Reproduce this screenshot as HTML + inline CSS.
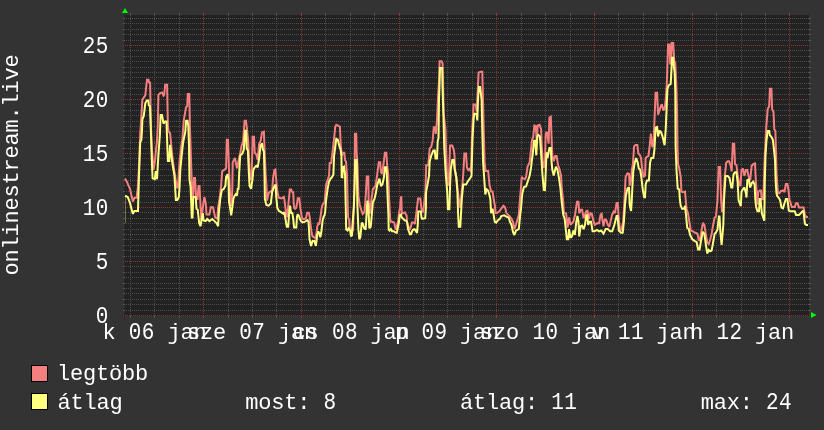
<!DOCTYPE html>
<html><head><meta charset="utf-8"><title>onlinestream.live</title>
<style>
html,body{margin:0;padding:0;background:#333333;width:824px;height:430px;overflow:hidden}
svg{display:block;will-change:transform}
text{font-family:"Liberation Mono", monospace;font-size:22px;fill:#ffffff;text-anchor:middle}
text.d{font-size:21px}
text.t{letter-spacing:-0.202px}
</style></head>
<body><svg width="824" height="430" viewBox="0 0 824 430">
<rect width="824" height="430" fill="#333333"/>
<rect x="125" y="15" width="684" height="301" fill="#222222"/>
<path d="M124.5 9V320M121 315.5H124" stroke="#282828" stroke-width="1" fill="none" shape-rendering="crispEdges"/>
<path d="M126 310.5H809 M126 304.5H809 M126 299.5H809 M126 293.5H809 M126 288.5H809 M126 283.5H809 M126 277.5H809 M126 272.5H809 M126 266.5H809 M126 256.5H809 M126 250.5H809 M126 245.5H809 M126 239.5H809 M126 234.5H809 M126 229.5H809 M126 223.5H809 M126 218.5H809 M126 212.5H809 M126 202.5H809 M126 196.5H809 M126 191.5H809 M126 185.5H809 M126 180.5H809 M126 175.5H809 M126 169.5H809 M126 164.5H809 M126 158.5H809 M126 148.5H809 M126 142.5H809 M126 137.5H809 M126 131.5H809 M126 126.5H809 M126 121.5H809 M126 115.5H809 M126 110.5H809 M126 104.5H809 M126 94.5H809 M126 88.5H809 M126 83.5H809 M126 77.5H809 M126 72.5H809 M126 67.5H809 M126 61.5H809 M126 56.5H809 M126 50.5H809 M126 40.5H809 M126 34.5H809 M126 29.5H809 M126 23.5H809 M126 18.5H809 M130.5 15V316 M154.5 15V316 M179.5 15V316 M228.5 15V316 M252.5 15V316 M276.5 15V316 M325.5 15V316 M350.5 15V316 M374.5 15V316 M423.5 15V316 M447.5 15V316 M472.5 15V316 M521.5 15V316 M545.5 15V316 M570.5 15V316 M618.5 15V316 M643.5 15V316 M667.5 15V316 M716.5 15V316 M741.5 15V316 M765.5 15V316" stroke="#4e4e4e" stroke-width="1" stroke-dasharray="1 1" fill="none" shape-rendering="crispEdges"/>
<path d="M123 310.5H125M809 310.5H811 M123 304.5H125M809 304.5H811 M123 299.5H125M809 299.5H811 M123 293.5H125M809 293.5H811 M123 288.5H125M809 288.5H811 M123 283.5H125M809 283.5H811 M123 277.5H125M809 277.5H811 M123 272.5H125M809 272.5H811 M123 266.5H125M809 266.5H811 M123 256.5H125M809 256.5H811 M123 250.5H125M809 250.5H811 M123 245.5H125M809 245.5H811 M123 239.5H125M809 239.5H811 M123 234.5H125M809 234.5H811 M123 229.5H125M809 229.5H811 M123 223.5H125M809 223.5H811 M123 218.5H125M809 218.5H811 M123 212.5H125M809 212.5H811 M123 202.5H125M809 202.5H811 M123 196.5H125M809 196.5H811 M123 191.5H125M809 191.5H811 M123 185.5H125M809 185.5H811 M123 180.5H125M809 180.5H811 M123 175.5H125M809 175.5H811 M123 169.5H125M809 169.5H811 M123 164.5H125M809 164.5H811 M123 158.5H125M809 158.5H811 M123 148.5H125M809 148.5H811 M123 142.5H125M809 142.5H811 M123 137.5H125M809 137.5H811 M123 131.5H125M809 131.5H811 M123 126.5H125M809 126.5H811 M123 121.5H125M809 121.5H811 M123 115.5H125M809 115.5H811 M123 110.5H125M809 110.5H811 M123 104.5H125M809 104.5H811 M123 94.5H125M809 94.5H811 M123 88.5H125M809 88.5H811 M123 83.5H125M809 83.5H811 M123 77.5H125M809 77.5H811 M123 72.5H125M809 72.5H811 M123 67.5H125M809 67.5H811 M123 61.5H125M809 61.5H811 M123 56.5H125M809 56.5H811 M123 50.5H125M809 50.5H811 M123 40.5H125M809 40.5H811 M123 34.5H125M809 34.5H811 M123 29.5H125M809 29.5H811 M123 23.5H125M809 23.5H811 M123 18.5H125M809 18.5H811 M130.5 13V15M130.5 316V318 M154.5 13V15M154.5 316V318 M179.5 13V15M179.5 316V318 M228.5 13V15M228.5 316V318 M252.5 13V15M252.5 316V318 M276.5 13V15M276.5 316V318 M325.5 13V15M325.5 316V318 M350.5 13V15M350.5 316V318 M374.5 13V15M374.5 316V318 M423.5 13V15M423.5 316V318 M447.5 13V15M447.5 316V318 M472.5 13V15M472.5 316V318 M521.5 13V15M521.5 316V318 M545.5 13V15M545.5 316V318 M570.5 13V15M570.5 316V318 M618.5 13V15M618.5 316V318 M643.5 13V15M643.5 316V318 M667.5 13V15M667.5 316V318 M716.5 13V15M716.5 316V318 M741.5 13V15M741.5 316V318 M765.5 13V15M765.5 316V318" stroke="#555555" stroke-width="1" fill="none" shape-rendering="crispEdges"/>
<path d="M123 45.5H810 M123 99.5H810 M123 153.5H810 M123 207.5H810 M123 261.5H810 M203.5 15V316 M301.5 15V316 M399.5 15V316 M496.5 15V316 M594.5 15V316 M692.5 15V316 M789.5 15V316" stroke="#883737" stroke-width="1" stroke-dasharray="1 1" fill="none" shape-rendering="crispEdges"/>
<path d="M123 315.5H810" stroke="#7a3636" stroke-width="1" stroke-dasharray="1 1" fill="none" shape-rendering="crispEdges"/>
<path d="M203.5 13V15M203.5 316V318 M301.5 13V15M301.5 316V318 M399.5 13V15M399.5 316V318 M496.5 13V15M496.5 316V318 M594.5 13V15M594.5 316V318 M692.5 13V15M692.5 316V318 M789.5 13V15M789.5 316V318" stroke="#963c3c" stroke-width="1" fill="none" shape-rendering="crispEdges"/>
<polygon points="122,13 128,13 125,8" fill="#00ff00"/>
<polygon points="811,312 811,318 816.5,315" fill="#00ff00"/>
<polyline points="125.0,178.4 127.1,182.1 130.0,189.0 131.5,195.6 132.9,201.5 134.4,197.8 136.6,197.8 138.0,186.0 139.2,162.4 140.2,133.3 141.0,122.0 142.4,99.7 145.3,95.3 147.0,79.7 148.5,79.7 149.0,82.2 150.1,82.6 150.9,126.0 152.0,150.0 153.5,169.7 154.8,162.4 157.0,140.6 157.8,126.0 158.4,94.9 160.2,93.1 162.0,92.4 163.5,95.7 164.2,94.9 165.2,84.8 167.1,84.8 167.9,126.0 168.6,131.8 170.1,133.3 171.2,144.9 172.2,155.1 173.7,166.8 175.9,181.3 177.3,188.4 178.1,186.0 179.5,162.4 181.0,147.8 182.4,139.1 183.3,126.0 183.9,119.3 186.1,107.0 187.2,106.2 187.8,93.9 189.3,93.9 189.9,126.0 190.5,143.5 191.2,166.8 192.2,195.0 193.2,196.0 194.0,178.0 195.0,178.0 196.0,196.0 197.5,200.0 198.5,186.0 199.5,186.0 200.5,205.0 201.4,220.4 202.5,210.0 204.3,197.1 205.7,202.9 206.5,214.6 209.4,214.6 210.8,207.3 213.0,207.3 215.2,217.5 217.4,219.0 218.1,207.3 219.6,198.6 221.0,186.9 222.2,171.1 224.7,169.7 226.1,168.2 226.8,139.8 228.0,139.8 229.0,169.7 229.8,188.0 230.5,205.0 231.5,205.0 232.3,190.0 232.7,162.4 234.9,158.0 237.0,168.2 238.5,161.0 240.7,150.8 241.4,146.4 243.1,141.1 244.6,120.7 246.0,120.7 247.0,129.5 248.2,141.1 249.6,172.0 250.8,180.2 251.8,172.0 252.6,136.8 254.0,136.8 254.7,152.8 256.2,154.2 257.7,160.1 259.1,144.0 260.6,141.1 262.0,132.4 263.9,131.7 264.5,148.4 265.7,175.0 266.4,184.6 267.1,200.6 268.6,193.3 270.0,191.8 272.2,190.4 273.0,178.7 274.4,170.0 275.4,169.5 276.6,184.6 277.3,191.8 278.8,197.7 281.7,198.4 283.9,196.9 284.4,199.6 285.4,207.9 286.3,215.2 287.1,217.1 288.5,203.0 289.3,195.0 289.8,189.4 291.2,189.4 292.0,191.8 293.2,192.3 293.7,203.0 294.1,207.9 295.1,208.9 296.1,207.9 297.1,203.0 297.8,198.2 299.3,198.2 299.8,203.0 300.5,208.9 301.5,215.2 302.2,218.6 303.4,219.1 305.9,218.6 307.1,212.8 308.8,212.8 309.8,217.6 310.5,224.0 311.5,232.3 312.5,236.3 313.9,237.2 315.4,238.2 316.4,234.3 317.3,226.5 318.3,223.6 319.3,224.5 320.8,214.8 321.7,207.9 322.5,205.0 324.6,202.0 326.1,184.6 327.6,180.2 329.0,175.8 329.7,163.0 331.2,163.0 333.8,141.1 335.3,126.6 336.3,124.8 338.5,125.8 339.9,126.6 340.7,144.0 341.7,155.7 342.8,152.8 344.3,152.8 345.0,160.1 346.0,161.5 346.9,174.0 347.2,184.6 348.1,217.7 349.1,219.6 349.6,226.5 350.5,228.4 352.0,230.0 353.0,231.0 354.5,184.6 354.9,133.8 356.2,133.8 356.7,152.8 357.6,167.3 358.4,196.2 359.8,205.0 361.3,210.0 362.7,214.0 364.5,212.0 365.8,195.0 366.8,176.6 368.3,176.6 368.6,199.1 370.0,213.7 371.5,199.1 372.9,188.9 374.4,187.5 375.8,184.6 377.3,174.0 378.8,162.2 380.2,162.2 381.0,172.0 382.0,174.0 383.1,167.3 384.9,152.8 386.3,152.8 387.2,165.9 388.2,174.0 389.0,196.2 390.2,218.9 390.9,221.8 392.7,221.8 394.2,222.6 395.3,227.7 396.0,229.8 398.2,220.4 399.3,210.9 400.0,208.0 400.6,200.0 401.3,196.2 401.8,213.8 403.3,213.1 404.8,212.4 405.5,213.8 406.6,215.3 407.2,223.9 409.1,227.7 409.9,229.8 410.6,227.7 412.0,222.6 413.5,222.6 415.0,224.0 416.6,210.8 418.1,198.4 420.3,198.4 421.7,210.8 423.2,212.2 425.4,191.8 426.1,170.0 426.1,165.2 428.3,165.2 429.7,148.4 431.2,147.0 432.6,141.1 433.8,127.3 435.3,127.3 435.8,133.8 437.0,120.0 437.9,100.0 439.0,81.1 439.6,61.3 441.5,61.3 442.6,63.5 443.7,114.0 445.5,129.5 446.0,148.4 447.0,175.0 448.0,186.0 449.0,176.0 450.1,145.5 452.3,145.5 453.8,149.9 454.5,155.7 455.2,174.0 456.5,177.0 457.4,187.5 458.8,199.1 460.3,207.9 461.0,199.0 462.5,184.0 463.5,170.0 464.4,153.5 466.1,153.5 466.9,167.3 468.3,170.2 469.8,168.8 471.0,172.0 472.2,130.6 473.6,104.4 475.8,104.4 476.6,111.7 477.3,100.0 478.6,72.4 480.8,71.7 482.3,71.7 483.0,100.0 483.8,133.5 484.6,162.0 485.5,171.1 488.2,171.1 489.5,185.0 491.1,191.5 492.6,191.5 493.6,198.8 494.8,205.0 495.5,213.1 496.9,213.1 499.1,211.6 501.3,208.7 503.5,205.8 505.0,207.3 506.4,213.1 507.9,214.6 509.3,216.0 511.5,218.9 513.0,221.8 513.7,226.2 514.4,229.1 515.9,224.8 517.3,220.4 518.8,214.6 519.5,205.0 521.0,187.1 521.7,176.9 523.2,178.4 525.0,179.1 526.1,176.9 527.5,166.7 529.0,163.8 529.7,162.0 531.9,140.8 533.3,136.4 534.4,125.5 535.8,126.2 536.7,140.8 537.7,125.5 539.6,124.8 541.1,129.1 541.6,143.7 542.8,162.0 543.8,168.0 545.0,162.0 545.7,133.5 547.2,132.0 548.6,143.7 549.4,117.5 550.8,116.7 551.5,136.4 552.3,155.3 553.7,161.2 555.2,156.1 556.6,156.1 558.1,165.3 559.6,169.6 561.0,175.5 561.7,187.1 563.2,201.7 563.9,213.1 566.1,213.3 567.6,227.7 569.0,217.5 570.5,224.8 571.9,223.3 573.4,221.8 575.0,215.0 577.0,201.7 578.5,201.7 579.2,213.3 580.7,209.7 582.1,209.7 583.6,218.0 586.5,211.0 587.5,210.9 588.9,218.9 590.4,213.1 591.8,213.8 593.3,220.4 594.7,224.8 596.9,223.3 599.1,223.3 600.6,214.6 601.7,213.8 602.7,221.8 603.5,226.2 604.9,218.9 606.4,220.4 607.8,224.8 609.3,226.9 610.8,220.4 612.2,214.6 613.7,211.6 615.0,213.0 616.6,202.9 617.7,202.9 619.0,222.0 620.2,230.6 621.7,229.1 623.1,221.8 624.2,205.8 625.6,177.0 627.5,173.3 629.0,174.0 629.7,185.7 631.0,180.0 631.9,169.7 632.9,163.8 634.1,146.4 635.5,144.9 637.3,144.9 638.4,153.6 639.9,155.1 641.0,158.0 642.1,168.2 643.5,177.0 645.0,175.5 645.7,158.0 647.2,156.6 648.5,156.0 650.1,142.0 650.8,133.5 652.3,147.1 653.5,143.0 654.5,120.0 655.6,92.7 657.1,92.7 658.1,114.6 659.5,110.2 661.0,105.8 662.0,104.4 663.2,110.2 664.6,108.8 665.8,98.6 666.8,84.0 668.1,44.6 669.5,44.6 670.2,63.5 671.0,63.5 671.7,43.1 673.2,43.1 674.2,60.6 675.3,63.5 676.3,84.0 677.0,108.8 677.5,146.0 678.0,163.8 679.2,168.2 680.7,177.0 681.4,191.5 682.8,192.2 685.0,191.5 686.5,208.7 687.9,213.1 689.4,221.8 690.8,230.6 693.0,231.3 695.2,232.8 697.4,233.5 698.9,240.8 700.3,237.9 701.8,229.1 702.9,222.9 704.4,225.1 705.8,233.9 707.3,242.6 708.7,244.1 710.2,239.7 711.6,233.9 713.1,225.1 714.6,217.8 716.0,216.4 717.5,200.0 718.6,167.1 720.1,167.1 721.1,200.0 722.0,212.0 723.0,210.6 724.0,190.0 724.8,175.9 726.2,162.8 727.7,161.3 729.1,161.3 730.5,165.0 731.7,171.5 732.8,143.8 734.2,143.8 735.0,164.2 736.4,164.9 737.6,174.4 739.3,184.6 740.5,186.0 741.5,170.0 743.0,168.6 744.4,175.9 745.9,170.0 747.3,170.0 748.8,177.3 750.2,180.2 751.7,165.7 753.2,164.2 755.0,163.5 755.8,180.0 756.8,193.3 757.5,204.7 758.2,191.9 759.7,190.4 760.9,190.4 761.9,199.2 763.3,199.2 764.8,155.5 765.5,142.0 766.3,126.6 767.7,109.1 769.2,106.2 769.9,88.7 771.4,88.7 772.1,109.1 773.5,112.0 774.3,129.5 775.4,131.0 775.7,142.0 776.5,172.9 777.9,193.3 779.4,193.3 780.8,191.2 783.0,190.4 784.5,192.0 785.9,183.9 787.4,183.9 788.5,190.4 789.6,200.0 790.3,201.8 791.7,206.9 794.7,206.9 796.1,203.3 797.6,203.3 799.0,207.6 803.7,207.6 804.9,214.9 806.3,217.1 808.0,217.1" fill="none" stroke="#f47f7f" stroke-width="2" stroke-linejoin="miter" stroke-miterlimit="2"/>
<path d="M125.5 195V223" stroke="#ffff80" stroke-opacity="0.35" stroke-width="1"/>
<polyline points="125.2,195.6 127.8,197.1 130.0,202.9 132.2,211.7 132.9,213.9 134.4,210.9 136.6,210.9 138.0,210.9 139.0,175.0 140.2,142.3 141.4,139.8 142.0,130.1 142.4,119.3 143.8,115.7 145.3,103.3 146.8,100.4 148.2,100.4 148.9,105.5 150.0,106.2 150.7,126.0 151.9,162.4 152.6,178.4 154.8,179.2 155.8,171.1 157.0,179.2 158.4,155.1 159.9,134.7 160.6,115.0 162.0,115.0 163.5,123.7 165.0,121.5 166.5,121.5 167.1,140.6 167.9,161.0 169.3,161.0 170.1,144.9 172.2,162.4 174.4,175.5 175.9,200.0 177.3,200.0 178.8,197.1 179.5,188.0 180.3,169.7 181.7,155.1 183.2,142.0 185.3,131.8 186.1,120.8 187.5,120.8 188.3,126.0 189.0,144.9 189.5,180.0 190.6,186.9 191.2,202.0 191.8,217.5 192.5,217.5 193.2,197.0 195.7,197.0 196.5,208.8 197.7,209.5 199.2,223.3 200.6,226.2 201.8,217.5 202.8,213.1 203.5,220.4 205.7,221.1 207.2,219.0 209.4,221.1 212.3,219.0 214.5,221.1 216.7,223.3 218.1,226.2 218.8,213.1 220.3,198.6 221.8,190.0 223.6,189.3 225.4,185.7 226.1,177.0 227.6,174.1 228.5,180.0 229.0,202.0 229.8,205.8 231.2,215.3 232.0,210.2 233.4,198.6 234.5,196.0 235.8,194.2 237.0,195.6 237.8,188.0 238.5,189.8 239.2,172.6 240.2,155.7 242.4,153.5 243.8,149.9 245.0,130.9 246.0,130.2 246.7,148.4 247.9,150.6 248.9,174.0 249.6,186.0 251.1,188.9 252.6,178.7 253.3,170.0 254.7,167.3 256.2,165.9 257.7,167.3 259.1,158.6 260.6,145.5 262.0,143.3 263.0,149.9 263.9,151.3 264.5,174.0 264.9,199.1 266.4,205.0 268.6,205.7 270.8,203.5 272.2,191.8 274.4,186.0 275.6,184.6 276.2,196.2 277.3,207.9 278.8,210.8 281.0,212.2 283.1,213.7 284.3,212.2 285.3,218.1 286.8,226.8 288.2,226.8 289.3,210.8 290.0,205.7 291.2,213.7 292.2,212.2 293.3,219.5 294.1,227.5 296.3,227.5 297.0,216.6 297.7,214.4 298.9,215.9 299.9,218.8 300.9,221.0 302.8,222.4 305.0,221.7 307.6,220.2 308.6,222.4 309.5,239.2 311.0,246.0 312.5,241.1 314.4,241.1 315.9,246.0 317.3,234.3 318.3,231.4 319.3,233.3 320.3,237.2 321.3,232.3 322.7,219.6 323.7,216.7 324.7,214.8 325.2,210.9 326.1,200.0 327.6,188.9 329.0,181.7 330.5,178.7 331.9,177.3 333.4,174.4 334.1,155.7 335.6,144.0 336.3,138.9 337.8,139.7 339.2,145.5 340.7,149.9 341.4,155.7 341.7,177.0 342.4,177.3 342.8,167.3 344.0,166.6 345.0,174.0 345.7,205.0 346.2,229.4 347.6,230.4 348.6,228.4 350.1,230.4 351.0,236.3 352.0,235.3 352.5,224.5 354.0,205.0 355.2,160.1 356.7,160.1 357.4,205.0 358.4,229.4 359.3,239.2 360.3,237.2 361.8,222.6 362.8,223.6 364.2,228.4 365.7,229.4 366.5,215.0 367.4,200.6 368.3,205.0 369.3,228.3 370.7,226.8 371.5,218.1 372.9,202.0 374.4,199.1 375.8,193.3 377.3,184.6 379.5,178.7 380.9,186.0 382.4,184.6 383.9,177.3 384.9,167.3 386.3,167.3 386.8,175.0 387.5,194.8 388.4,215.0 388.7,229.8 389.5,230.6 390.9,229.1 392.0,231.3 393.8,231.3 395.3,232.4 396.8,232.8 397.8,227.7 398.9,222.6 399.7,215.3 400.8,214.6 401.8,217.5 403.3,218.9 404.8,220.4 406.0,220.4 407.3,222.6 408.0,229.1 409.1,232.0 409.9,234.2 411.0,234.2 412.0,231.3 413.1,229.8 414.2,229.1 415.3,229.8 416.4,232.0 417.1,232.8 417.9,222.6 418.2,211.6 420.8,211.6 421.5,217.5 422.2,218.9 423.7,218.6 425.2,218.2 425.9,208.0 426.1,191.8 427.5,184.6 429.0,175.8 429.7,161.5 431.2,155.7 433.4,150.6 434.8,150.6 435.5,158.6 437.0,158.6 437.7,141.1 438.5,138.2 439.0,100.0 439.6,81.1 440.0,68.0 442.2,68.0 442.5,87.0 442.5,87.0 443.4,114.0 444.3,148.4 445.7,173.2 447.2,191.8 447.9,209.3 449.4,209.3 450.1,184.6 450.8,168.8 452.3,160.1 453.8,160.1 454.5,168.8 455.9,174.0 457.4,191.8 458.1,213.7 458.8,226.8 460.3,226.8 461.8,199.1 463.2,184.6 466.1,184.6 467.6,181.7 469.8,178.7 471.5,176.0 472.5,140.0 473.6,118.9 474.4,113.8 476.6,113.8 477.3,120.4 478.0,100.0 478.9,87.0 480.1,87.0 480.8,92.8 481.6,100.0 482.3,130.0 483.1,162.0 485.3,194.4 486.7,189.3 488.2,190.8 489.7,195.9 490.4,200.0 491.1,213.1 492.6,208.7 494.8,221.8 496.2,222.6 497.7,220.4 499.9,218.9 501.3,216.0 504.2,215.3 506.4,216.7 508.6,217.5 510.0,221.8 511.5,224.8 513.0,232.0 514.4,235.0 515.9,230.6 517.3,229.9 518.8,229.1 520.2,214.6 521.0,208.7 521.7,200.0 522.4,192.9 523.9,187.1 526.1,186.4 528.3,179.8 529.7,175.5 531.2,166.7 531.9,160.0 532.6,155.3 534.1,140.8 535.2,140.8 536.3,155.3 537.3,136.4 538.4,135.0 539.9,136.4 541.4,158.0 542.5,175.0 543.8,190.0 545.0,190.0 545.7,172.6 546.5,152.4 547.5,158.0 549.4,148.1 550.8,148.1 551.5,160.9 552.3,169.6 553.7,175.5 555.9,166.7 557.4,169.6 558.8,176.9 560.3,187.1 561.7,201.7 563.2,214.6 564.7,218.9 566.1,232.0 566.8,239.3 568.3,239.3 569.0,229.1 570.5,237.9 571.9,236.4 573.4,230.6 574.8,235.0 576.3,221.8 577.5,216.0 578.5,221.8 579.2,236.4 580.7,226.2 582.1,225.5 583.6,229.1 585.0,224.8 586.2,216.0 587.2,214.6 588.2,224.8 589.6,221.8 591.1,221.8 592.6,231.3 594.7,231.3 596.9,229.9 599.1,231.3 601.3,230.6 603.5,233.5 605.7,229.1 607.8,229.1 610.0,231.3 612.2,231.3 614.4,224.8 616.6,216.0 617.5,216.0 618.8,230.6 621.0,232.8 622.7,232.8 623.9,221.8 625.0,204.4 626.0,195.0 627.5,188.6 629.0,187.1 629.7,205.0 631.1,210.9 631.8,200.0 632.3,188.6 633.3,171.1 634.8,162.4 636.2,158.0 637.7,162.4 638.7,168.2 640.2,169.7 641.3,177.0 642.8,190.1 644.2,197.3 645.0,197.3 645.7,184.2 646.9,180.6 648.9,180.6 650.1,162.4 651.2,158.0 653.3,158.0 654.4,150.0 655.6,127.7 657.1,127.0 658.1,136.4 659.5,130.6 661.0,132.1 662.5,136.4 663.9,142.2 664.6,145.2 665.8,127.7 666.8,102.9 667.5,88.4 668.8,85.3 670.7,83.9 672.1,57.7 673.2,57.7 673.9,66.4 674.6,72.2 675.3,92.0 675.6,146.0 676.5,170.0 677.7,188.6 679.2,189.3 679.9,200.0 680.7,205.8 682.1,208.7 684.3,208.7 685.0,205.8 686.0,215.0 687.2,227.7 688.7,229.1 690.1,234.9 692.3,239.3 694.5,240.8 696.7,242.2 698.1,249.5 699.6,249.5 701.0,240.8 702.9,231.7 704.4,233.9 705.8,244.1 707.3,253.5 708.7,249.9 710.2,251.3 711.6,250.6 713.1,242.6 714.6,233.9 716.0,232.4 717.5,229.5 718.9,216.4 719.5,216.4 720.4,232.4 721.6,244.8 723.3,225.1 724.0,200.0 725.5,175.9 727.7,175.9 729.5,178.0 731.3,187.5 732.3,187.5 733.5,174.4 735.0,172.2 736.4,172.2 737.6,181.7 738.6,200.4 740.8,206.2 741.5,191.9 743.0,189.0 744.4,187.5 745.9,193.3 746.5,197.5 747.3,180.2 748.8,179.5 750.2,187.5 751.7,183.1 753.2,181.7 754.6,184.6 755.3,199.2 756.1,206.9 757.5,211.3 759.0,211.3 759.7,198.9 760.5,198.9 761.9,213.5 763.3,217.8 764.3,220.8 764.8,181.7 765.5,155.5 766.5,140.0 767.7,131.0 769.2,131.0 769.9,135.3 771.4,136.8 772.8,139.7 773.5,145.0 775.0,159.8 775.7,181.7 776.5,193.3 777.2,196.0 778.6,197.5 780.1,200.4 781.5,207.6 783.0,208.4 784.5,203.3 785.9,198.9 787.4,198.9 788.8,210.6 790.3,211.3 794.7,211.3 796.1,214.9 799.0,214.9 801.9,212.0 803.4,210.6 804.9,223.7 806.3,225.1 808.0,225.1" fill="none" stroke="#ffff80" stroke-width="2" stroke-linejoin="miter" stroke-miterlimit="2"/>
<rect x="31.5" y="365.5" width="16" height="16" fill="#f47f7f" stroke="#000" stroke-width="1"/>
<rect x="31.5" y="393.5" width="16" height="16" fill="#ffff80" stroke="#000" stroke-width="1"/>
<g><text class="d" transform="translate(102.15 322.8) scale(1 1.1)">0</text>
<text class="d" transform="translate(102.15 268.8) scale(1 1.1)">5</text>
<text class="d" transform="translate(89.15 214.8) scale(1 1.1)">1</text>
<text class="d" transform="translate(102.15 214.8) scale(1 1.1)">0</text>
<text class="d" transform="translate(89.15 160.8) scale(1 1.1)">1</text>
<text class="d" transform="translate(102.15 160.8) scale(1 1.1)">5</text>
<text class="d" transform="translate(89.15 106.8) scale(1 1.1)">2</text>
<text class="d" transform="translate(102.15 106.8) scale(1 1.1)">0</text>
<text class="d" transform="translate(89.15 52.8) scale(1 1.1)">2</text>
<text class="d" transform="translate(102.15 52.8) scale(1 1.1)">5</text>
<text x="109.1" y="338.6">k</text>
<text class="d" transform="translate(135.1 338.6) scale(1 1.1)">0</text>
<text class="d" transform="translate(148.1 338.6) scale(1 1.1)">6</text>
<text x="174.1" y="338.6">j</text>
<text x="187.1" y="338.6">a</text>
<text x="200.1" y="338.6">n</text>
<text x="193.6" y="338.6">s</text>
<text x="206.6" y="338.6">z</text>
<text x="219.6" y="338.6">e</text>
<text class="d" transform="translate(245.6 338.6) scale(1 1.1)">0</text>
<text class="d" transform="translate(258.6 338.6) scale(1 1.1)">7</text>
<text x="284.6" y="338.6">j</text>
<text x="297.6" y="338.6">a</text>
<text x="310.6" y="338.6">n</text>
<text x="299.2" y="338.6">c</text>
<text x="312.2" y="338.6">s</text>
<text class="d" transform="translate(338.2 338.6) scale(1 1.1)">0</text>
<text class="d" transform="translate(351.2 338.6) scale(1 1.1)">8</text>
<text x="377.2" y="338.6">j</text>
<text x="390.2" y="338.6">a</text>
<text x="403.2" y="338.6">n</text>
<text x="401.7" y="338.6">p</text>
<text class="d" transform="translate(427.7 338.6) scale(1 1.1)">0</text>
<text class="d" transform="translate(440.7 338.6) scale(1 1.1)">9</text>
<text x="466.7" y="338.6">j</text>
<text x="479.7" y="338.6">a</text>
<text x="492.7" y="338.6">n</text>
<text x="486.7" y="338.6">s</text>
<text x="499.7" y="338.6">z</text>
<text x="512.7" y="338.6">o</text>
<text class="d" transform="translate(538.7 338.6) scale(1 1.1)">1</text>
<text class="d" transform="translate(551.7 338.6) scale(1 1.1)">0</text>
<text x="577.7" y="338.6">j</text>
<text x="590.7" y="338.6">a</text>
<text x="603.7" y="338.6">n</text>
<text x="598.2" y="338.6">v</text>
<text class="d" transform="translate(624.2 338.6) scale(1 1.1)">1</text>
<text class="d" transform="translate(637.2 338.6) scale(1 1.1)">1</text>
<text x="663.2" y="338.6">j</text>
<text x="676.2" y="338.6">a</text>
<text x="689.2" y="338.6">n</text>
<text x="696.7" y="338.6">h</text>
<text class="d" transform="translate(722.7 338.6) scale(1 1.1)">1</text>
<text class="d" transform="translate(735.7 338.6) scale(1 1.1)">2</text>
<text x="761.7" y="338.6">j</text>
<text x="774.7" y="338.6">a</text>
<text x="787.7" y="338.6">n</text>
<text class="t" x="0" y="0" transform="translate(18.2 164.9) rotate(-90)">onlinestream.live</text>
<text x="63.5" y="380.1">l</text>
<text x="76.5" y="380.1">e</text>
<text x="89.5" y="380.1">g</text>
<text x="102.5" y="380.1">t</text>
<text x="115.5" y="380.1">ö</text>
<text x="128.5" y="380.1">b</text>
<text x="141.5" y="380.1">b</text>
<text x="64.2" y="408.7">á</text>
<text x="77.2" y="408.7">t</text>
<text x="90.2" y="408.7">l</text>
<text x="103.2" y="408.7">a</text>
<text x="116.2" y="408.7">g</text>
<text x="251.9" y="408.7">m</text>
<text x="264.9" y="408.7">o</text>
<text x="277.9" y="408.7">s</text>
<text x="290.9" y="408.7">t</text>
<text x="303.9" y="408.7">:</text>
<text class="d" transform="translate(329.9 408.7) scale(1 1.1)">8</text>
<text x="466.6" y="408.7">á</text>
<text x="479.6" y="408.7">t</text>
<text x="492.6" y="408.7">l</text>
<text x="505.6" y="408.7">a</text>
<text x="518.6" y="408.7">g</text>
<text x="531.6" y="408.7">:</text>
<text class="d" transform="translate(557.6 408.7) scale(1 1.1)">1</text>
<text class="d" transform="translate(570.6 408.7) scale(1 1.1)">1</text>
<text x="707.3" y="408.7">m</text>
<text x="720.3" y="408.7">a</text>
<text x="733.3" y="408.7">x</text>
<text x="746.3" y="408.7">:</text>
<text class="d" transform="translate(772.3 408.7) scale(1 1.1)">2</text>
<text class="d" transform="translate(785.3 408.7) scale(1 1.1)">4</text></g>
</svg></body></html>
